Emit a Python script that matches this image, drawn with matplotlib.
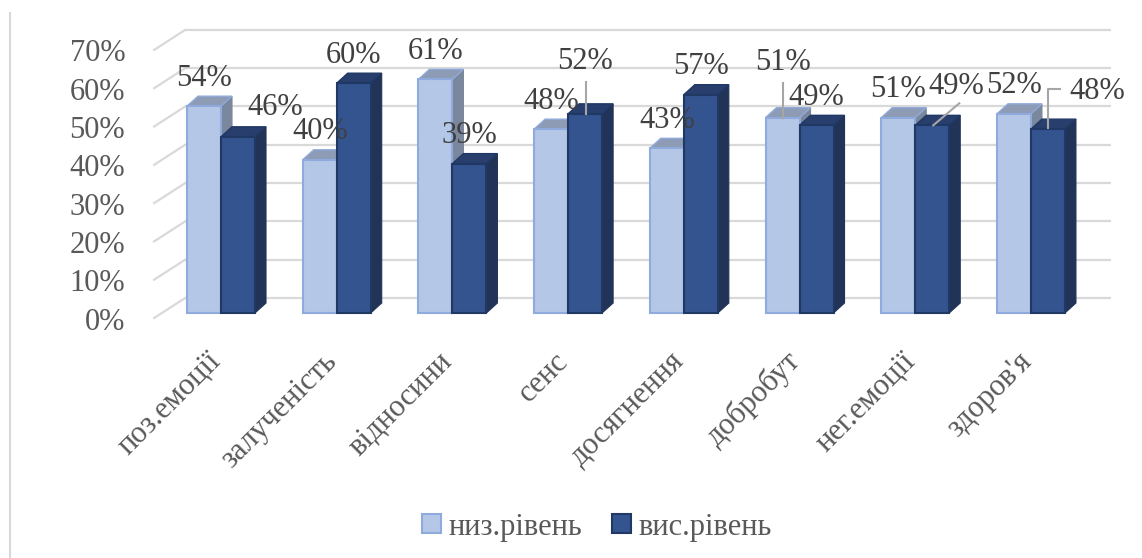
import matplotlib
matplotlib.use("Agg")
import matplotlib.pyplot as plt
from matplotlib.patches import Polygon, Patch
from matplotlib.lines import Line2D
import numpy as np

plt.rcParams['font.family'] = ['Liberation Serif', 'DejaVu Serif']

# scale wellbeing components, share of respondents per level
categories = ["поз.емоції", "залученість", "відносини", "сенс",
              "досягнення", "добробут", "нег.емоції", "здоров'я"]
low_level = [0.54, 0.40, 0.61, 0.48, 0.43, 0.51, 0.51, 0.52]
high_level = [0.46, 0.60, 0.39, 0.52, 0.57, 0.49, 0.49, 0.48]
series_names = ["низ.рівень", "вис.рівень"]
y_ticks = [0.0, 0.1, 0.2, 0.3, 0.4, 0.5, 0.6, 0.7]

W, H = 1142, 558
fig = plt.figure(figsize=(W / 100, H / 100), dpi=100)
fig.patch.set_facecolor("white")

# front plane of the bars, in pixels of the figure
left_px, right_px, bottom_px, top_px = 163.15, 1088.8, 313, 44.9
ax = fig.add_axes([left_px / W, (H - bottom_px) / H,
                   (right_px - left_px) / W, (bottom_px - top_px) / H])
ax.set_xlim(-0.5, len(categories) - 0.5)
ax.set_ylim(0, 0.7)
ax.axis("off")

# one pixel in data units
ux = len(categories) / (right_px - left_px)
uy = 0.7 / (bottom_px - top_px)

# pseudo 3D geometry (pixels)
bar_dx, bar_dy = 11, 10
wall_dx, wall_dy = 22, 15
side_dx, side_dy = 31, 20
bar_w = 34 * ux

fs = 22
grid_c = "#d9d9d9"
text_c = "#595959"
label_c = "#404040"

# back wall and side wall gridlines
x_back0 = -0.5 + wall_dx * ux
x_back1 = len(categories) - 0.5 + wall_dx * ux
for v in y_ticks:
    yb = v + wall_dy * uy
    ax.plot([x_back0, x_back1], [yb, yb], color=grid_c, lw=1.6,
            zorder=1, clip_on=False, solid_capstyle="butt")
    xf = x_back0 - side_dx * ux
    yf = yb - side_dy * uy
    ax.plot([x_back0, xf], [yb, yf], color=grid_c, lw=1.6,
            zorder=1, clip_on=False)
    ax.text(xf - 29 * ux, yf - 4 * uy, f"{int(round(v * 100))}%", ha="right",
            va="center", fontsize=fs, color=text_c, clip_on=False)

styles = [
    dict(front="#b4c7e7", edge="#8faadc", top="#8d9bb5", side="#7b879c"),
    dict(front="#34548f", edge="#1f3864", top="#283e6d", side="#223358"),
]


def draw_bar(x0, v, st, z):
    x1 = x0 + bar_w
    dx, dy = bar_dx * ux, bar_dy * uy
    side = Polygon([(x1, 0), (x1, v), (x1 + dx, v + dy), (x1 + dx, dy)],
                   closed=True, fc=st["side"], ec=st["side"], lw=0.8,
                   zorder=z, clip_on=False)
    top = Polygon([(x0, v), (x1, v), (x1 + dx, v + dy), (x0 + dx, v + dy)],
                  closed=True, fc=st["top"], ec=st["edge"], lw=1.0,
                  zorder=z, clip_on=False)
    front = Polygon([(x0, 0), (x1, 0), (x1, v), (x0, v)], closed=True,
                    fc=st["front"], ec=st["edge"], lw=1.5, zorder=z + 0.1,
                    clip_on=False)
    for p in (side, top, front):
        ax.add_patch(p)


x = np.arange(len(categories))
for i in range(len(categories)):
    draw_bar(x[i] - bar_w, low_level[i], styles[0], 2 + i)
    draw_bar(x[i], high_level[i], styles[1], 2.5 + i)

# data labels; some are moved aside with a leader line (pixel offsets)
moved = {
    (1, 0): dict(dx=37, dy=29, leader=None),
    (1, 3): dict(dx=0, dy=52, leader=[(1, 32), (1, 0)]),
    (0, 5): dict(dx=0, dy=55, leader=[(0, 35), (0, 0)]),
    (1, 6): dict(dx=24, dy=39, leader=[(27, 22), (1, 0)]),
    (1, 7): dict(dx=49, dy=38, leader=[(12, 40), (0, 40), (0, 1)]),
}
for s, vals in enumerate([low_level, high_level]):
    for i, v in enumerate(vals):
        cx = x[i] - bar_w / 2 if s == 0 else x[i] + bar_w / 2
        m = moved.get((s, i), dict(dx=0, dy=28, leader=None))
        ax.text(cx + m["dx"] * ux, v + m["dy"] * uy, f"{int(round(v * 100))}%",
                ha="center", va="center", fontsize=fs, color=label_c,
                zorder=30, clip_on=False)
        if m["leader"]:
            lx = [cx + px * ux for px, py in m["leader"]]
            ly = [v + py * uy for px, py in m["leader"]]
            ax.plot(lx, ly, color="#a6a6a6", lw=1.5, zorder=29, clip_on=False)

# category labels under the floor
for i, name in enumerate(categories):
    ax.text(x[i] - 4 * ux, -44 * uy, name, rotation=45,
            rotation_mode="anchor", ha="right", va="center",
            fontsize=fs, color=text_c, clip_on=False)

handles = [Patch(facecolor=styles[0]["front"], edgecolor=styles[0]["edge"], lw=1.5),
           Patch(facecolor=styles[1]["front"], edgecolor=styles[1]["edge"], lw=1.5)]
fig.legend(handles, series_names, loc="center",
           bbox_to_anchor=(597 / W, 1 - 527 / H), ncol=2, frameon=False,
           fontsize=fs, labelcolor=text_c, handlelength=0.6,
           handleheight=0.6, handletextpad=0.25, columnspacing=1.0)

# chart area border on the left
fig.add_artist(Line2D([9.5 / W, 9.5 / W], [0, 1 - 13 / H],
                      color=grid_c, lw=1.5, transform=fig.transFigure))

fig.savefig("out.png", dpi=100)
